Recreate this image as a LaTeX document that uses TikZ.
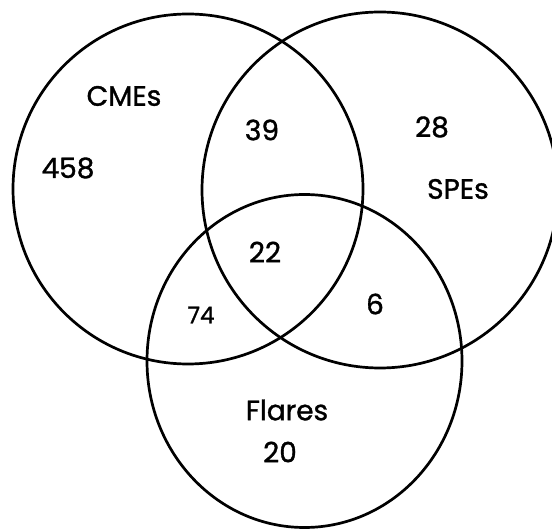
\documentclass[tikz,border=0pt]{standalone}
\usepackage{fontspec}
\setmainfont{Poppins}[FakeBold=1.2]
\begin{document}
\begin{tikzpicture}[x=1pt,y=-1pt,
  ring/.style={draw=black,line width=2.7pt},
  lab/.style={inner sep=0pt,font=\fontsize{28}{30}\selectfont},
  small/.style={inner sep=0pt,font=\fontsize{23}{26}\selectfont}]
\useasboundingbox (0,0) rectangle (552,529);
\clip (0,0) rectangle (552,529);
\fill[white] (0,0) rectangle (552,529);
\draw[ring] (188,189) circle[radius=175];
\draw[ring] (380,190) circle[radius=178];
\draw[ring] (304.5,361) ellipse[x radius=157.5,y radius=166.5];
\node[lab] (cmes) at (124,96) {CMEs};
\node[lab] (n458) at (68,168) {458};
\node[lab] (n39) at (262,130) {39};
\node[lab] (n28) at (432,127) {28};
\node[lab] (spes) at (458,189) {SPEs};
\node[lab] (n22) at (265,252) {22};
\node[small] (n74) at (201,315) {74};
\node[lab] (n6) at (375,304) {6};
\node[lab] (flares) at (287,410) {Flares};
\node[lab] (n20) at (280,452) {20};
\end{tikzpicture}
\end{document}
